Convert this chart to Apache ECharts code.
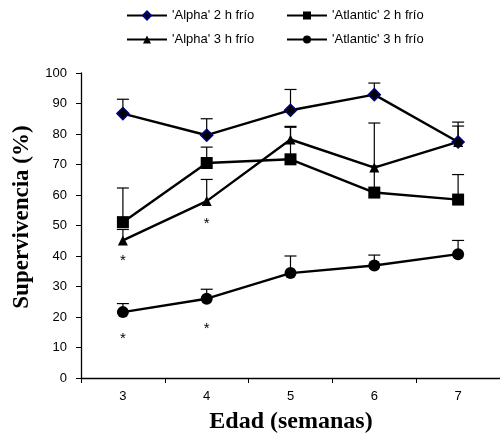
<!DOCTYPE html>
<html><head><meta charset="utf-8">
<script src="https://cdn.jsdelivr.net/npm/echarts@6/dist/echarts.min.js"></script>
<style>html,body{margin:0;padding:0;background:#fff}#c{width:500px;height:436px}</style>
</head><body><div id="c"></div>
<script>
var weeks = ['3','4','5','6','7'];
var yTicks = [0,10,20,30,40,50,60,70,80,90,100];
var alpha2 = [86.7, 79.6, 87.8, 92.9, 77.4];
var alpha2Err = [91.4, 85.0, 94.6, 96.7, 83.9];
var atl2 = [51.1, 70.5, 71.7, 60.8, 58.5];
var atl2Err = [62.3, 75.7, 82.2, 69.5, 66.7];
var alpha3 = [45.1, 58.0, 78.2, 69.0, 77.4];
var alpha3Err = [48.7, 65.1, 82.5, 83.6, 82.6];
var atl3 = [21.6, 26.0, 34.4, 36.9, 40.6];
var atl3Err = [24.4, 29.1, 40.0, 40.3, 45.1];
// asterisks: [week index, visual value]
var stars = [[0, 39.7], [1, 51.7], [0, 14.0], [1, 17.5]];

var names = ["'Alpha' 2 h frío", "'Atlantic' 2 h frío", "'Alpha' 3 h frío", "'Atlantic' 3 h frío"];

function errData(v, e){ return v.map(function(x,i){ return [i, x, e[i]]; }); }
function errSeries(v, e){
  return {
    type:'custom', z:1, silent:true,
    data: errData(v,e),
    renderItem: function(params, api){
      var p0 = api.coord([api.value(0), api.value(1)]);
      var p1 = api.coord([api.value(0), api.value(2)]);
      var s = {stroke:'#000', lineWidth:1.2};
      return {type:'group', children:[
        {type:'line', shape:{x1:p0[0],y1:p0[1],x2:p1[0],y2:p1[1]}, style:s},
        {type:'line', shape:{x1:p1[0]-6,y1:p1[1],x2:p1[0]+6,y2:p1[1]}, style:s}
      ]};
    }
  };
}
function lineSeries(name, data, symbol, size, border){
  return {
    name:name, type:'line', z:3, data:data, symbol:symbol, symbolSize:size,
    lineStyle:{color:'#000', width:2.4},
    itemStyle:{color:'#000', borderColor:border||'#000', borderWidth:border?1.5:0},
    emphasis:{disabled:true}, animation:false
  };
}
var textFont = 'Liberation Sans';
function leg(n, left, top){
  return {data:[n], left:left, top:top, itemWidth:40, itemHeight:10, itemGap:0,
    padding:0, textStyle:{fontFamily:textFont, fontSize:13, color:'#000'},
    selectedMode:false};
}
var chart = echarts.init(document.getElementById('c'), null, {renderer:'canvas'});
chart.setOption({
  animation:false,
  legend:[leg(names[0],126,9), leg(names[1],286,9), leg(names[2],126,33), leg(names[3],286,33)],
  grid:{left:81, right:0, top:73, bottom:58},
  xAxis:{type:'category', data:weeks, boundaryGap:true,
    axisLine:{lineStyle:{color:'#000', width:1.3}},
    axisTick:{show:true, length:5, inside:false, lineStyle:{color:'#000'}},
    axisLabel:{fontFamily:textFont, fontSize:13, color:'#000', margin:12}},
  yAxis:{type:'value', min:0, max:100, interval:10,
    axisLine:{show:true, lineStyle:{color:'#000', width:1.3}},
    axisTick:{show:true, length:5, lineStyle:{color:'#000'}},
    splitLine:{show:false},
    axisLabel:{fontFamily:textFont, fontSize:13, color:'#000', margin:14,
      formatter:function(v){ return yTicks.indexOf(v)>=0 ? String(v) : ''; }}},
  graphic:[
    {type:'text', x:22, y:217, rotation:Math.PI/2,
      style:{text:'Supervivencia (%)', font:'bold 23px "Liberation Serif"', fill:'#000', textAlign:'center', textVerticalAlign:'middle'}},
    {type:'text', x:291, y:422,
      style:{text:'Edad (semanas)', font:'bold 24px "Liberation Serif"', fill:'#000', textAlign:'center', textVerticalAlign:'middle'}}
  ],
  series:[
    errSeries(alpha2, alpha2Err), errSeries(atl2, atl2Err), errSeries(alpha3, alpha3Err), errSeries(atl3, atl3Err),
    lineSeries(names[0], alpha2, 'diamond', 12, '#000080'),
    lineSeries(names[1], atl2, 'rect', 12),
    lineSeries(names[2], alpha3, 'triangle', 10),
    lineSeries(names[3], atl3, 'circle', 12),
    {type:'custom', z:4, silent:true, data:stars,
      renderItem:function(params, api){
        var p = api.coord([api.value(0), api.value(1)]);
        return {type:'text', x:p[0], y:p[1]+4,
          style:{text:'*', font:'15px "Liberation Sans"', fill:'#000', textAlign:'center', textVerticalAlign:'middle'}};
      }}
  ]
});
</script></body></html>
